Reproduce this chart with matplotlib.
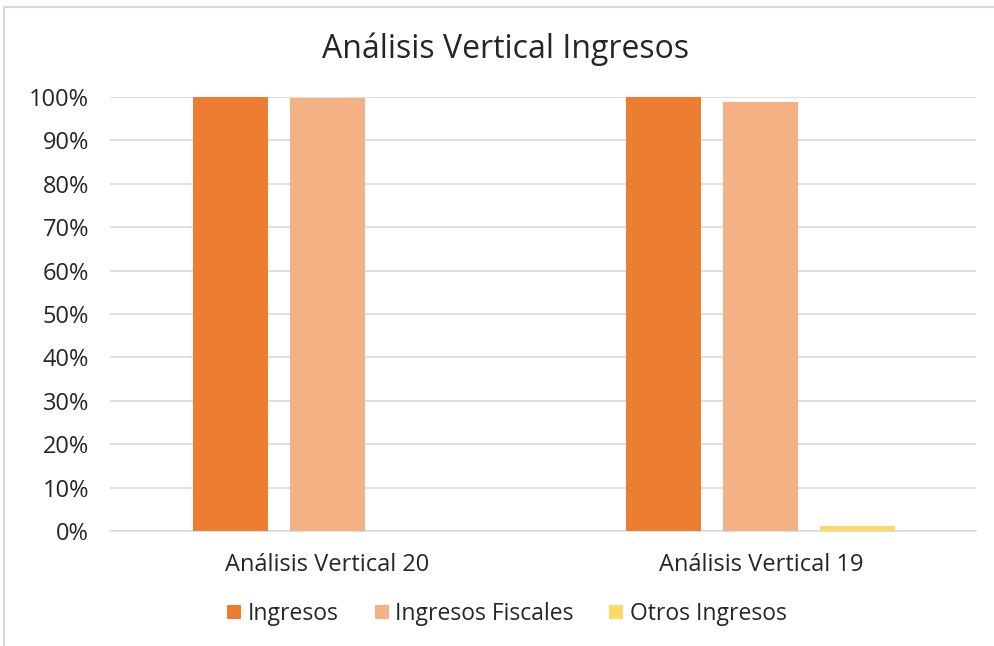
import matplotlib
matplotlib.use("Agg")
import matplotlib.pyplot as plt
import numpy as np
from matplotlib.patches import Rectangle
from matplotlib.ticker import PercentFormatter

CATEGORIES = ["Análisis Vertical 20", "Análisis Vertical 19"]
SERIES = ["Ingresos", "Ingresos Fiscales", "Otros Ingresos"]
INGRESOS = [1.0, 1.0]
INGRESOS_FISCALES = [0.998, 0.988]
OTROS_INGRESOS = [0.0, 0.012]
COLORS = ["#ED7D31", "#F4B183", "#FFD966"]
TEXT = "#262626"

plt.rcParams["font.family"] = ["Open Sans", "DejaVu Sans"]

fig = plt.figure(figsize=(9.94, 6.46), dpi=100)
ax = fig.add_axes([110 / 994, 115 / 646, 866 / 994, 434 / 646])

x = np.arange(len(CATEGORIES))
step = 0.2237
width = 0.173
for i, (name, vals) in enumerate(zip(SERIES, [INGRESOS, INGRESOS_FISCALES, OTROS_INGRESOS])):
    ax.bar(x + (i - 1) * step, vals, width, color=COLORS[i], label=name, zorder=3)

ax.set_xlim(-0.501, 1.496)
ax.set_ylim(0, 1.0)
ax.set_yticks(np.arange(0, 1.01, 0.1))
ax.yaxis.set_major_formatter(PercentFormatter(1.0, decimals=0))
ax.set_xticks(x)
ax.set_xticklabels(CATEGORIES)
ax.grid(axis="y", color="#d9d9d9", linewidth=1.2, zorder=0)
ax.set_axisbelow(True)
for side in ["top", "right", "left"]:
    ax.spines[side].set_visible(False)
ax.spines["bottom"].set_color("#d9d9d9")
ax.spines["bottom"].set_linewidth(1.2)
ax.tick_params(axis="both", length=0, labelsize=17, colors=TEXT)
ax.tick_params(axis="y", pad=15)
ax.tick_params(axis="x", pad=16)

fig.text(506 / 994, 1 - 49 / 646, "Análisis Vertical Ingresos", ha="center", va="center",
         fontsize=23, color=TEXT)

fig.legend(loc="center", bbox_to_anchor=(507 / 994, 1 - 614 / 646), ncol=3, frameon=False,
           fontsize=16.5, handlelength=0.61, handleheight=0.61, handletextpad=0.28,
           columnspacing=1.57, labelcolor=TEXT)

fig.patches.append(Rectangle((4 / 994, -0.1), 1.2, 1 - 7 / 646 + 0.1, transform=fig.transFigure,
                             fill=False, edgecolor="#d9d9d9", linewidth=1.5))

fig.savefig("out.png", dpi=100)
